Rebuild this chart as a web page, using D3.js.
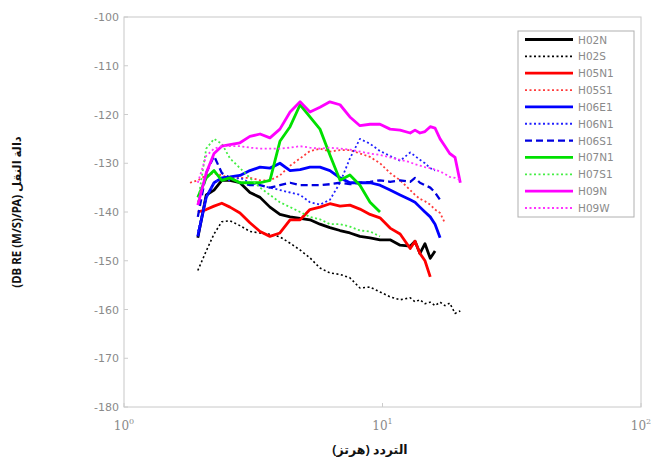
<!DOCTYPE html>
<html>
<head>
<meta charset="utf-8">
<script src="https://cdn.jsdelivr.net/npm/d3@7"></script>
<style>
body { margin: 0; background: #fff; }
svg { display: block; }
</style>
</head>
<body>
<div id="root"></div>
<script>
// frequency grid (Hz), shared by all series
var freqHz = [1.80, 1.93, 2.08, 2.23, 2.39, 2.57, 2.81, 3.07, 3.36, 3.67, 4.01, 4.39, 4.80, 5.24, 5.73,
  6.26, 6.85, 7.48, 8.18, 8.95, 9.78, 10.7, 11.7, 12.8, 13.36, 13.96, 14.60, 15.3, 15.97, 16.7, 17.45, 18.2, 19.08, 20.0];

// transfer function, dB re (m/s)/Pa  (null = no data)
var h02n  = [null, -145.3, -136.5, -135.5, -133.5, -133.5, -134, -136, -137, -139, -140.5, -141, -141.3, -141.6, -142.5,
  -143.2, -143.8, -144.3, -145, -145.3, -145.7, -145.7, -146.8, -147, -146, -148.5, -146.5, -149.5, -148,
  null, null, null, null, null];
var h02s  = [null, -152, -148, -144.5, -142, -141.8, -142.8, -144, -144.3, -144.6, -145.1, -146.4, -147.8, -149.4, -151.5,
  -152.5, -152.8, -153.5, -155.6, -155.4, -156.4, -157.4, -158, -157.6, -158.4, -158, -158.8, -158.5, -159.2,
  -158.5, -159.2, -158.7, -160.8, -160.3];
var h05n1 = [null, -140, -139.5, -138.8, -138.2, -139, -140.2, -142.2, -144, -145, -144.3, -141.6, -141.6, -139.5, -139,
  -138.3, -138.8, -138.6, -139.4, -140.5, -141.2, -143.3, -144.5, -147.5, -146, -148.5, -150, -153.3,
  null, null, null, null, null, null];
var h05s1 = [-134, -133.5, -132.5, -132, -132.5, -133, -133, -133, -133.5, -133.5, -132.5, -130.5, -129, -127.5, -127,
  -127.6, -127.3, -127.3, -128, -128.7, -130, -132, -133.5, -135.5, -136.5, -137.3, -137.8, -138.5, -139.5,
  -140.2, -142.3, null, null, null];
var h06e1 = [null, -145, -137, -134, -133, -132.8, -132.5, -131.5, -130.8, -131, -130, -131.5, -131.3, -130.8, -130.8,
  -131.5, -133, -134, -134, -134, -134.5, -135.5, -136.5, -137.5, -138, -139, -140, -141, -142.5,
  -145.3, null, null, null, null];
var h06n1 = [null, -144, -137, -134, -133, -133.5, -133, -134, -134.5, -135, -135.5, -136, -136.5, -138, -138.5,
  -137.5, -134, -129, -125, -126, -127.5, -128.5, -129.5, -127.8, -128.5, -129.3, -130, -131, -131.5,
  null, null, null, null, null];
var h06s1 = [null, -141, -132, -128.5, -132, -133, -134, -134.5, -134.5, -135, -134.5, -134, -134.5, -134.5, -134.5,
  -134.3, -134, -134.3, -134, -133.8, -133.5, -133.8, -133.5, -133.8, -133, -134, -134.5, -135, -136,
  -137.5, null, null, null, null];
var h07n1 = [null, -137, -133, -131.5, -133.5, -133, -134, -134, -134, -133.5, -125.5, -122.5, -118, -120.5, -123,
  -128.3, -133.5, -132.4, -134.5, -138, -140, null, null, null, null, null, null, null, null,
  null, null, null, null, null];
var h07s1 = [null, -138, -127, -125, -126, -129, -131, -133, -135, -136.5, -138, -139, -140, -141, -141.5,
  -142.5, -142.5, -143, -143.8, -144, -145, null, null, null, null, null, null, null, null,
  null, null, null, null, null];
var h09n  = [null, -138.6, -132, -128, -126.5, -126.2, -125.8, -124.5, -124, -124.8, -123, -119.5, -117.4, -119.5, -118.5,
  -117.4, -118, -120.5, -122.3, -122, -122, -123, -123.2, -123.8, -123.2, -123.8, -123.5, -122.5, -122.8,
  -125, -126.5, -128, -128.8, -134];
var h09w  = [null, -134, -128.5, -127, -126.5, -126.5, -126.5, -126.8, -127, -127, -127, -126.8, -126.5, -126.8, -127,
  -126.8, -127, -127.2, -127.6, -128, -128.3, -128.8, -129.3, -129.8, -130.2, -130.5, -130.8, -131, -131.3,
  -131.7, -132.2, -132.8, -133, -133.4];

var seriesNames = ["H02N", "H02S", "H05N1", "H05S1", "H06E1", "H06N1", "H06S1", "H07N1", "H07S1", "H09N", "H09W"];
var seriesValues = [h02n, h02s, h05n1, h05s1, h06e1, h06n1, h06s1, h07n1, h07s1, h09n, h09w];
var seriesColors = ["#000", "#000", "#ff0000", "#ff3b3b", "#0000ff", "#2020ff", "#0000e0", "#00e000", "#44ee44", "#ff00ff", "#ff33ff"];
var seriesDash = [null, "2,2.5", null, "2,2.5", null, "2,2.5", "7,4", null, "2,2.5", null, "2,2.5"];
var seriesWidth = [2.8, 1.6, 2.8, 1.8, 2.8, 1.8, 2.3, 2.8, 1.8, 2.8, 1.8];

var yTicks = [-100, -110, -120, -130, -140, -150, -160, -170, -180];
var xTicks = [1, 10, 100];

var w = 661, h = 467;

var svg = d3.select('#root').append('svg')
  .attr('width', w)
  .attr('height', h);

var x = d3.scaleLog().domain([1, 100]).range([124, 641]);
var y = d3.scaleLinear().domain([-180, -100]).range([407, 17]);

// plot box
svg.append('rect')
  .attr('x', 124).attr('y', 17)
  .attr('width', 641 - 124).attr('height', 407 - 17)
  .attr('fill', '#fff')
  .attr('stroke', '#c8c8c8')
  .attr('stroke-width', 1);

// y ticks + labels
svg.selectAll('line.yt')
  .data(yTicks)
  .enter().append('line')
  .attr('class', 'yt')
  .attr('x1', 124).attr('x2', 128)
  .attr('y1', function(d) { return y(d); })
  .attr('y2', function(d) { return y(d); })
  .attr('stroke', '#ccc');

svg.selectAll('text.yl')
  .data(yTicks)
  .enter().append('text')
  .attr('class', 'yl')
  .attr('x', 119)
  .attr('y', function(d) { return y(d) + 4; })
  .attr('text-anchor', 'end')
  .attr('font-family', 'DejaVu Sans, sans-serif')
  .attr('font-size', '11px')
  .attr('fill', '#8a8a8a')
  .text(function(d) { return d; });

// x ticks + labels
svg.selectAll('line.xt')
  .data(xTicks)
  .enter().append('line')
  .attr('class', 'xt')
  .attr('x1', function(d) { return x(d); })
  .attr('x2', function(d) { return x(d); })
  .attr('y1', 407).attr('y2', 403)
  .attr('stroke', '#ccc');

var xl = svg.selectAll('text.xl')
  .data(xTicks)
  .enter().append('text')
  .attr('class', 'xl')
  .attr('x', function(d) { return x(d); })
  .attr('y', 430)
  .attr('text-anchor', 'middle')
  .attr('font-family', 'DejaVu Serif, serif')
  .attr('font-size', '12px')
  .attr('fill', '#8a8a8a');
xl.append('tspan').text('10');
xl.append('tspan')
  .attr('dy', -6)
  .attr('font-size', '8px')
  .text(function(d) { return Math.round(Math.log10(d)); });

// axis titles
svg.append('text')
  .attr('x', 370).attr('y', 454)
  .attr('text-anchor', 'middle')
  .attr('font-family', 'Noto Sans, DejaVu Sans, sans-serif')
  .attr('font-weight', 'bold')
  .attr('font-size', '12.5px')
  .attr('fill', '#111')
  .text('التردد (هرتز)');

svg.append('text')
  .attr('transform', 'translate(21,212) rotate(-90)')
  .attr('text-anchor', 'middle')
  .attr('font-family', 'Noto Sans, DejaVu Sans, sans-serif')
  .attr('font-weight', 'bold')
  .attr('font-size', '11.5px')
  .attr('fill', '#111')
  .text('(DB RE (M/S)/PA) دالة النقل');

// lines
var line = d3.line()
  .defined(function(d) { return d[1] != null; })
  .x(function(d) { return x(d[0]); })
  .y(function(d) { return y(d[1]); });

var series = seriesNames.map(function(name, i) {
  return {
    name: name,
    pts: freqHz.map(function(f, j) { return [f, seriesValues[i][j]]; }),
    color: seriesColors[i], dash: seriesDash[i], width: seriesWidth[i]
  };
});

svg.selectAll('path.series')
  .data(series)
  .enter().append('path')
  .attr('class', 'series')
  .attr('d', function(d) { return line(d.pts); })
  .attr('fill', 'none')
  .attr('stroke', function(d) { return d.color; })
  .attr('stroke-width', function(d) { return d.width; })
  .attr('stroke-dasharray', function(d) { return d.dash; })
  .attr('stroke-linejoin', 'round');

// legend
var lg = svg.append('g').attr('transform', 'translate(518,31)');
lg.append('rect')
  .attr('width', 116).attr('height', 186)
  .attr('fill', '#fff')
  .attr('stroke', '#b0b0b0');
var item = lg.selectAll('g.item')
  .data(series)
  .enter().append('g')
  .attr('class', 'item')
  .attr('transform', function(d, i) { return 'translate(0,' + (8.5 + i * 16.85) + ')'; });
item.append('line')
  .attr('x1', 7).attr('x2', 55)
  .attr('stroke', function(d) { return d.color; })
  .attr('stroke-width', function(d) { return d.width; })
  .attr('stroke-dasharray', function(d) { return d.dash; });
item.append('text')
  .attr('x', 60).attr('y', 4)
  .attr('font-family', 'DejaVu Sans, sans-serif')
  .attr('font-size', '10.5px')
  .attr('fill', '#8a8a8a')
  .text(function(d) { return d.name; });
</script>
</body>
</html>
